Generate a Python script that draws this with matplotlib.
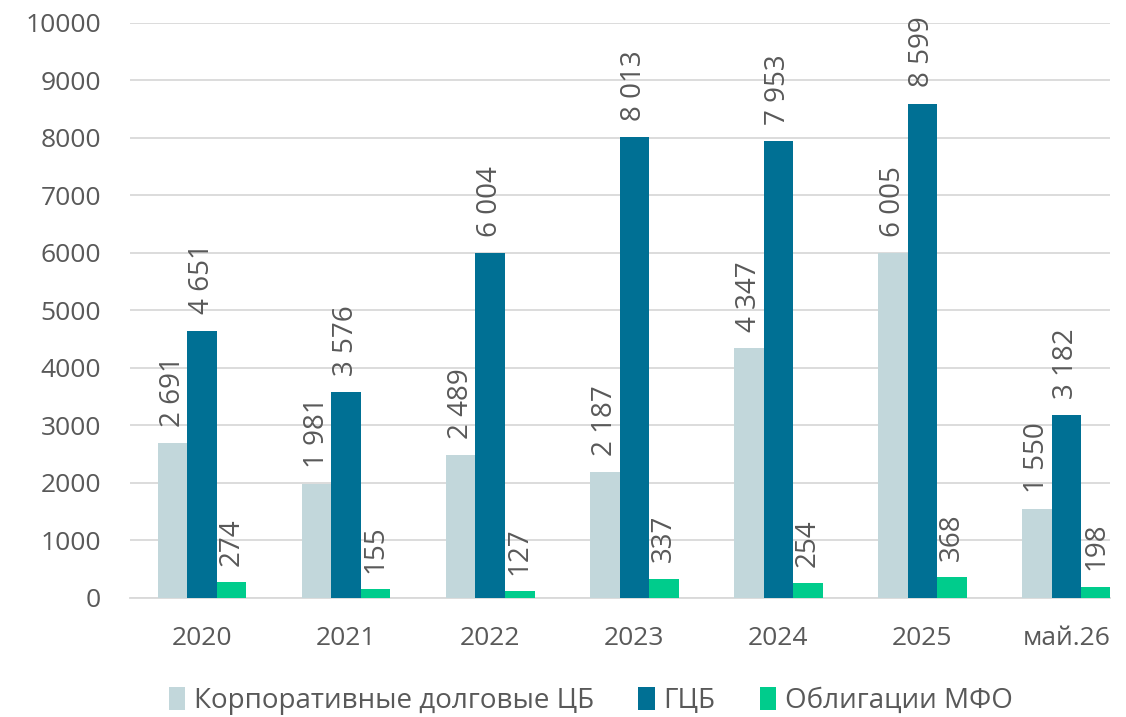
import matplotlib.pyplot as plt
import numpy as np

plt.rcParams['font.family'] = ['Open Sans', 'DejaVu Sans']

categories = ["2020", "2021", "2022", "2023", "2024", "2025", "май.26"]
corp_bonds = [2691, 1981, 2489, 2187, 4347, 6005, 1550]
gov_bonds = [4651, 3576, 6004, 8013, 7953, 8599, 3182]
mfo_bonds = [274, 155, 127, 337, 254, 368, 198]
series_names = ["Корпоративные долговые ЦБ", "ГЦБ", "Облигации МФО"]

colors = ["#C2D7DB", "#007094", "#00CC8C"]
text_color = "#595959"


def fmt(v):
    return f"{v:,}".replace(",", " ")


fig = plt.figure(figsize=(11.26, 7.17), dpi=100)
ax = fig.add_axes([0.1155, 0.166, 0.870, 0.802])

x = np.arange(len(categories))
w = 0.205

for i, (vals, name) in enumerate(zip([corp_bonds, gov_bonds, mfo_bonds], series_names)):
    pos = x + (i - 1) * w
    ax.bar(pos, vals, width=w, color=colors[i], label=name, zorder=3)
    for p, v in zip(pos, vals):
        ax.text(p, v + 280, fmt(v), rotation=90, ha="center", va="bottom",
                fontsize=20, color=text_color, zorder=4)

ax.set_xlim(-0.5, 6.3)
ax.set_ylim(0, 10000)
ax.set_yticks(np.arange(0, 10001, 1000))
ax.set_xticks(x)
ax.set_xticklabels(categories)
ax.tick_params(axis="both", length=0, labelsize=19, labelcolor=text_color)
ax.tick_params(axis="x", pad=20)
ax.tick_params(axis="y", pad=21)

ax.grid(axis="y", color="#D9D9D9", linewidth=1.3, zorder=0)
for s in ["top", "right", "left"]:
    ax.spines[s].set_visible(False)
ax.spines["bottom"].set_color("#D9D9D9")
ax.spines["bottom"].set_linewidth(1.3)

leg = ax.legend(loc="upper center", bbox_to_anchor=(0.47, -0.135), ncol=3, frameon=False,
                fontsize=20, handlelength=0.6, handleheight=0.9, handletextpad=0.3,
                columnspacing=1.6, borderaxespad=0)
for t in leg.get_texts():
    t.set_color(text_color)

fig.savefig("out.png", dpi=100)
